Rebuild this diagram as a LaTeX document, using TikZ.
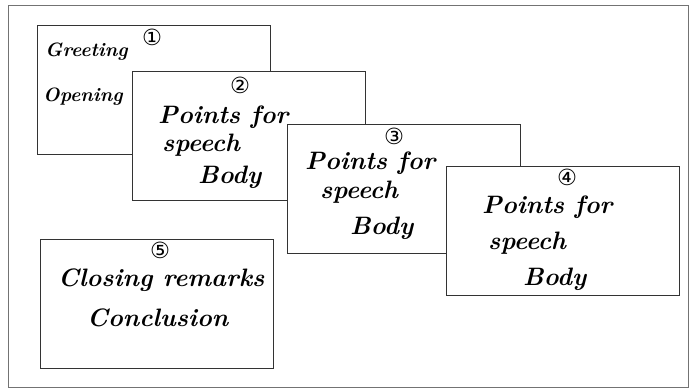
\documentclass[tikz,border=0pt]{standalone}
\usepackage{fontspec}
\usepackage{tikz}
\usetikzlibrary{positioning}
\newfontfamily\circfont{DejaVu Sans}
\newcommand{\handfont}{\bfseries\itshape}

\tikzset{
    card/.style={
        draw=black!80,
        line width=0.7pt,
        fill=white,
        minimum width=6.99cm,
        minimum height=3.87cm,
        inner sep=0pt,
        anchor=north west
    },
    words/.style={
        anchor=west,
        inner sep=0pt,
        font=\handfont\fontsize{21.5}{24}\selectfont
    },
    smallwords/.style={
        words,
        font=\handfont\fontsize{16.5}{20}\selectfont
    },
    num/.style={
        inner sep=0pt,
        font=\circfont\fontsize{19}{22}\selectfont
    }
}

\begin{document}
\begin{tikzpicture}[x=0.03cm, y=-0.03cm]

\useasboundingbox (0,0) rectangle (695,390);
\draw[black!55, line width=0.6pt] (8,5) rectangle (688,387);

% opening card
\node[card] (card1) at (37,25) {};
\node[num] (num1) at (152,37) {①};
\node[smallwords] (greet) at (45,52) {Greeting};
\node[smallwords] (open) at (43,97) {Opening};

% body cards
\node[card] (card2) at (132,71) {};
\node[num] (num2) at (240,85) {②};
\node[words] (pts2) at (158,117) {Points for};
\node[words] (sp2) at (162,145) {speech};
\node[words] (body2) at (198,177) {Body};

\node[card] (card3) at (287,124) {};
\node[num] (num3) at (394,136) {③};
\node[words] (pts3) at (305,163) {Points for};
\node[words] (sp3) at (320,192) {speech};
\node[words] (body3) at (350,228) {Body};

\node[card] (card4) at (446,166) {};
\node[num] (num4) at (567,177) {④};
\node[words] (pts4) at (482,207) {Points for};
\node[words] (sp4) at (488,243) {speech};
\node[words] (body4) at (523,279) {Body};

% closing card
\node[card] (card5) at (40,239) {};
\node[num] (num5) at (160,250) {⑤};
\node[words] (close) at (58,280) {Closing remarks};
\node[words] (concl) at (87,318) {Conclusion};

\end{tikzpicture}
\end{document}
